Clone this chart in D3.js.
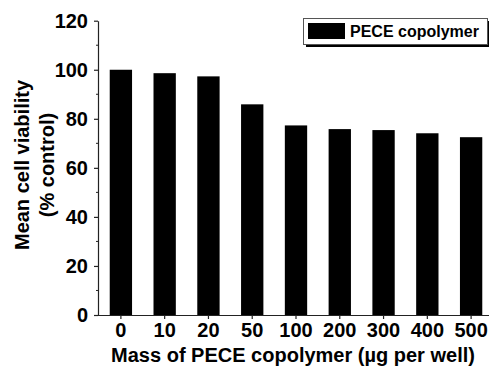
<!DOCTYPE html>
<html>
<head>
<meta charset="utf-8">
<script src="https://cdn.jsdelivr.net/npm/d3@7"></script>
<style>
  body { margin: 0; background: #fff; }
  text { font-family: Arial, "Liberation Sans", sans-serif; font-weight: bold; fill: #000; }
</style>
</head>
<body>
<script>
// chart data
const categories = ["0", "10", "20", "50", "100", "200", "300", "400", "500"];
const viability = [100, 98.6, 97.3, 85.9, 77.3, 75.8, 75.4, 74.1, 72.5];
const yTicks = [0, 20, 40, 60, 80, 100, 120];
const seriesName = "PECE copolymer";

const W = 489, H = 367;
const svg = d3.select("body").append("svg")
    .attr("width", W)
    .attr("height", H);

// scales
const x = d3.scaleBand()
    .domain(categories)
    .range([99, 493])
    .paddingInner(0.49)
    .paddingOuter(0.245);
const y = d3.scaleLinear()
    .domain([0, 120])
    .range([315, 20.7]);

// bars
svg.append("g")
  .selectAll("rect")
  .data(viability)
  .join("rect")
    .attr("x", (d, i) => x(categories[i]))
    .attr("y", d => y(d))
    .attr("width", x.bandwidth())
    .attr("height", d => y(0) - y(d))
    .attr("fill", "#000");

// y axis
const yAxis = svg.append("g")
    .attr("transform", "translate(98,0)")
    .call(d3.axisLeft(y).tickValues(yTicks).tickSize(4).tickPadding(6).tickSizeOuter(0));
yAxis.append("g")
  .selectAll("line")
  .data(d3.range(10, 120, 20))
  .join("line")
    .attr("x1", -2).attr("x2", 0)
    .attr("y1", d => y(d)).attr("y2", d => y(d))
    .attr("stroke", "#222");
yAxis.selectAll("text").style("font-size", "20px");

// x axis
const xAxis = svg.append("g")
    .attr("transform", "translate(0,315)")
    .call(d3.axisBottom(x).tickSize(4).tickPadding(4).tickSizeOuter(0));
xAxis.select(".domain").attr("d", "M98,0.5H489");
xAxis.selectAll("text").style("font-size", "20px");

svg.selectAll(".domain, .tick line").attr("stroke", "#222").attr("stroke-width", 1.2);

// axis titles
svg.append("text")
    .attr("x", 293)
    .attr("y", 362)
    .attr("text-anchor", "middle")
    .style("font-size", "20px")
    .text("Mass of PECE copolymer (\u00b5g per well)");

const yTitle = svg.append("text")
    .attr("transform", "translate(29,165) rotate(-90)")
    .attr("text-anchor", "middle")
    .style("font-size", "20px");
yTitle.append("tspan").attr("x", 0).attr("dy", 0).text("Mean cell viability");
yTitle.append("tspan").attr("x", 0).attr("dy", 25).text("(% control)");

// legend
const lg = svg.append("g");
lg.append("rect")
    .attr("x", 306).attr("y", 21)
    .attr("width", 184).attr("height", 26)
    .attr("fill", "#000");
lg.append("rect")
    .attr("x", 303.5).attr("y", 18.5)
    .attr("width", 184).attr("height", 26)
    .attr("fill", "#fff")
    .attr("stroke", "#555");
lg.append("rect")
    .attr("x", 308).attr("y", 23)
    .attr("width", 37).attr("height", 16)
    .attr("fill", "#000");
lg.append("text")
    .attr("x", 350).attr("y", 37)
    .style("font-size", "16px")
    .text(seriesName);
</script>
</body>
</html>
